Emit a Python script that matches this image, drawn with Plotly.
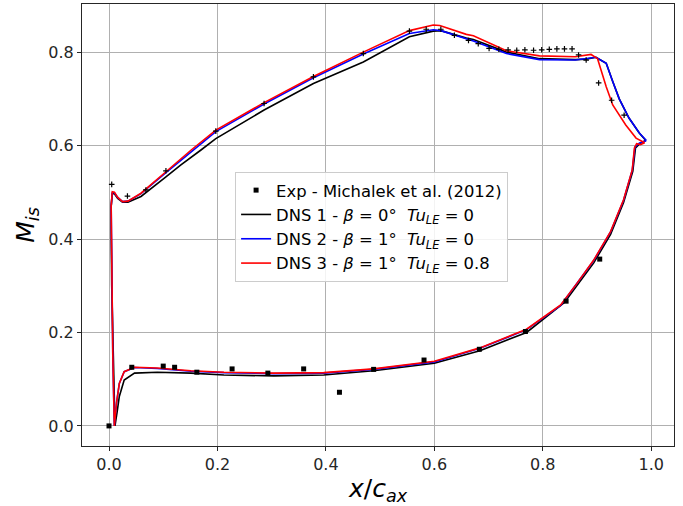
import plotly.graph_objects as go

# ---------------- data ----------------
# Experimental data (Michalek et al. 2012)
exp_ps_x = [0.0, 0.042, 0.100, 0.121, 0.162, 0.227, 0.293, 0.359, 0.425, 0.488,
            0.581, 0.683, 0.768, 0.843, 0.905]
exp_ps_y = [0.0, 0.1255, 0.128, 0.1255, 0.115, 0.122, 0.113, 0.122, 0.072, 0.121,
            0.141, 0.164, 0.202, 0.267, 0.357]
exp_ss_x = [0.005, 0.034, 0.068, 0.105, 0.197, 0.286, 0.377, 0.469, 0.554, 0.585,
            0.612, 0.637, 0.663, 0.681, 0.701, 0.719, 0.736, 0.752, 0.767, 0.783,
            0.798, 0.812, 0.826, 0.840, 0.854, 0.866, 0.880, 0.903, 0.927, 0.950]
exp_ss_y = [0.517, 0.492, 0.505, 0.546, 0.631, 0.690, 0.747, 0.797, 0.845, 0.849,
            0.849, 0.836, 0.825, 0.818, 0.808, 0.806, 0.805, 0.804, 0.805, 0.804,
            0.805, 0.806, 0.807, 0.807, 0.807, 0.794, 0.783, 0.734, 0.697, 0.665]

# DNS 1 (black)
dns1_ss_x = [0.011, 0.008, 0.005, 0.004, 0.004, 0.006, 0.010, 0.016, 0.025, 0.035,
             0.059, 0.105, 0.132, 0.169, 0.197, 0.286, 0.377, 0.469, 0.554, 0.598,
             0.612, 0.659, 0.672, 0.733, 0.794, 0.860, 0.880, 0.898, 0.917, 0.929,
             0.941, 0.959, 0.978, 0.990]
dns1_ss_y = [0.0, 0.15, 0.30, 0.42, 0.47, 0.497, 0.497, 0.487, 0.479, 0.479,
             0.491, 0.533, 0.558, 0.590, 0.615, 0.676, 0.733, 0.779, 0.833, 0.845,
             0.846, 0.830, 0.827, 0.800, 0.786, 0.784, 0.785, 0.789, 0.776, 0.737,
             0.700, 0.659, 0.627, 0.611]
dns1_ps_x = [0.011, 0.015, 0.019, 0.028, 0.047, 0.089, 0.151, 0.212, 0.304, 0.396,
             0.488, 0.600, 0.684, 0.770, 0.840, 0.894, 0.925, 0.949, 0.966, 0.971,
             0.980, 0.990]
dns1_ps_y = [0.0, 0.03, 0.063, 0.098, 0.113, 0.115, 0.113, 0.109, 0.107, 0.109,
             0.118, 0.134, 0.161, 0.200, 0.264, 0.349, 0.410, 0.478, 0.545, 0.595,
             0.605, 0.611]

# DNS 2 (blue)
dns2_ss_x = [0.0098, 0.007, 0.005, 0.004, 0.004, 0.006, 0.010, 0.016, 0.025, 0.035,
             0.059, 0.105, 0.151, 0.197, 0.286, 0.377, 0.469, 0.554, 0.598, 0.612,
             0.672, 0.733, 0.794, 0.860, 0.898, 0.917, 0.929, 0.941, 0.959, 0.978,
             0.991]
dns2_ss_y = [0.0, 0.15, 0.30, 0.42, 0.47, 0.499, 0.499, 0.489, 0.480, 0.481,
             0.497, 0.542, 0.587, 0.630, 0.689, 0.745, 0.796, 0.840, 0.848, 0.846,
             0.824, 0.797, 0.784, 0.783, 0.789, 0.776, 0.737, 0.700, 0.659, 0.627,
             0.611]
dns2_ps_x = [0.0098, 0.014, 0.019, 0.028, 0.047, 0.089, 0.151, 0.212, 0.304, 0.396,
             0.488, 0.600, 0.684, 0.770, 0.833, 0.863, 0.894, 0.925, 0.949, 0.965,
             0.970, 0.978, 0.991]
dns2_ps_y = [0.0, 0.05, 0.091, 0.116, 0.125, 0.123, 0.117, 0.114, 0.112, 0.113,
             0.121, 0.137, 0.166, 0.206, 0.258, 0.304, 0.354, 0.415, 0.483, 0.547,
             0.597, 0.605, 0.611]

# DNS 3 (red)
dns3_ss_x = [0.0098, 0.007, 0.005, 0.004, 0.004, 0.006, 0.010, 0.016, 0.025, 0.035,
             0.059, 0.105, 0.151, 0.197, 0.286, 0.377, 0.469, 0.554, 0.598, 0.610,
             0.659, 0.672, 0.733, 0.794, 0.860, 0.889, 0.901, 0.917, 0.929, 0.953,
             0.972, 0.988]
dns3_ss_y = [0.0, 0.15, 0.30, 0.42, 0.47, 0.501, 0.500, 0.489, 0.480, 0.481,
             0.498, 0.544, 0.590, 0.633, 0.692, 0.748, 0.800, 0.846, 0.858, 0.857,
             0.838, 0.835, 0.803, 0.792, 0.790, 0.795, 0.786, 0.726, 0.687, 0.644,
             0.616, 0.606]
dns3_ps_x = [0.0098, 0.014, 0.019, 0.028, 0.047, 0.089, 0.151, 0.212, 0.304, 0.396,
             0.488, 0.600, 0.684, 0.770, 0.833, 0.863, 0.894, 0.925, 0.949, 0.965,
             0.969, 0.973, 0.980, 0.988]
dns3_ps_y = [0.0, 0.05, 0.091, 0.116, 0.1255, 0.124, 0.118, 0.115, 0.113, 0.114,
             0.122, 0.1385, 0.167, 0.207, 0.259, 0.305, 0.355, 0.416, 0.484, 0.548,
             0.595, 0.604, 0.602, 0.606]

x_ticks = [0.0, 0.2, 0.4, 0.6, 0.8, 1.0]
y_ticks = [0.0, 0.2, 0.4, 0.6, 0.8]

labels = ["Exp - Michalek et al. (2012)",
          "DNS 1 - <i>β</i> = 0°  <i>Tu</i><sub><i>LE</i></sub> = 0",
          "DNS 2 - <i>β</i> = 1°  <i>Tu</i><sub><i>LE</i></sub> = 0",
          "DNS 3 - <i>β</i> = 1°  <i>Tu</i><sub><i>LE</i></sub> = 0.8"]

# ---------------- figure ----------------
FONT = "DejaVu Sans"
fig = go.Figure()


def loop(ps_x, ps_y, ss_x, ss_y):
    xs = list(reversed(ps_x)) + list(ss_x[1:])
    ys = list(reversed(ps_y)) + list(ss_y[1:])
    return xs, ys


for (psx, psy, ssx, ssy), color, name, rank in [
    ((dns1_ps_x, dns1_ps_y, dns1_ss_x, dns1_ss_y), "#000000", labels[1], 2),
    ((dns2_ps_x, dns2_ps_y, dns2_ss_x, dns2_ss_y), "#0000ff", labels[2], 3),
    ((dns3_ps_x, dns3_ps_y, dns3_ss_x, dns3_ss_y), "#ff0000", labels[3], 4),
]:
    xs, ys = loop(psx, psy, ssx, ssy)
    fig.add_trace(go.Scatter(x=xs, y=ys, mode="lines", name=name, legendrank=rank,
                             line=dict(color=color, width=1.6)))

fig.add_trace(go.Scatter(x=exp_ps_x, y=exp_ps_y, mode="markers", name=labels[0],
                         legendrank=1, legendgroup="exp",
                         marker=dict(symbol="square", size=5, color="black")))
fig.add_trace(go.Scatter(x=exp_ss_x, y=exp_ss_y, mode="markers", showlegend=False,
                         legendgroup="exp",
                         marker=dict(symbol="cross-thin", size=4, color="black",
                                     line=dict(color="black", width=1.2))))

axis_common = dict(showgrid=True, gridcolor="#b0b0b0", gridwidth=1,
                   showline=True, linecolor="#262626", linewidth=1.2, mirror=True,
                   ticks="outside", ticklen=4, tickwidth=1.2, tickcolor="#262626",
                   zeroline=False, automargin=False,
                   tickfont=dict(family=FONT, size=16, color="#262626"))

fig.update_xaxes(range=[-0.0498, 1.042], tickvals=x_ticks,
                 ticktext=[f"{v:.1f}" for v in x_ticks],
                 title=dict(text="<i>x</i>/<i>c</i><sub><i>ax</i></sub>",
                            font=dict(family=FONT, size=25, color="#000"), standoff=8),
                 **axis_common)
fig.update_yaxes(range=[-0.043, 0.903], tickvals=y_ticks,
                 ticktext=[f"{v:.1f}" for v in y_ticks],
                 title=dict(text="<i>M</i><sub><i>is</i></sub>",
                            font=dict(family=FONT, size=25, color="#000"), standoff=6),
                 **axis_common)

fig.update_layout(
    width=683, height=506,
    margin=dict(l=82, r=9, t=4, b=60),
    plot_bgcolor="white", paper_bgcolor="white",
    font=dict(family=FONT, size=16, color="#000"),
    legend=dict(x=0.2586, y=0.62, xanchor="left", yanchor="top",
                bgcolor="rgba(255,255,255,0.85)", bordercolor="#cccccc", borderwidth=1,
                font=dict(family=FONT, size=16.4), tracegroupgap=0, itemwidth=30),
    showlegend=True,
)

fig.write_html("out.html", config={"displayModeBar": False},
               post_script="document.body.style.margin='0';document.body.style.overflow='hidden';")
